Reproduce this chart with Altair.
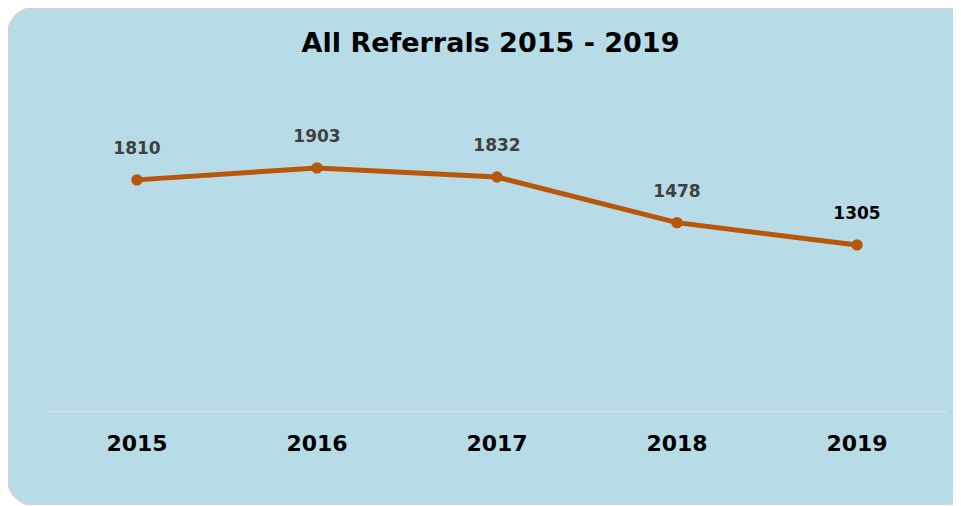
import altair as alt
import pandas as pd

years = ["2015", "2016", "2017", "2018", "2019"]
referrals = [1810, 1903, 1832, 1478, 1305]
title_text = "All Referrals 2015 - 2019"

df = pd.DataFrame({"year": years, "referrals": referrals})

W, H = 965, 497

x = alt.X("year:N", sort=years,
          scale=alt.Scale(type="band", range=[39, 939], paddingInner=0, paddingOuter=0),
          axis=alt.Axis(title=None, labelAngle=0, ticks=False, grid=False,
                        domainColor="#d6dfe3", domainWidth=1.5, offset=-94,
                        labelFont="DejaVu Sans", labelFontWeight="bold",
                        labelFontSize=22, labelColor="#000000", labelPadding=22))
y = alt.Y("referrals:Q", scale=alt.Scale(domain=[0, 2500], range=[405, 83]),
          axis=None)

base = alt.Chart(df).encode(x=x, y=y)

line = base.mark_line(color="#b8560b", strokeWidth=5)
pts = base.mark_circle(color="#b8560b", size=130, opacity=1)
labels = base.mark_text(dy=-31, font="DejaVu Sans", fontWeight="bold", fontSize=17).encode(
    text="referrals:Q",
    color=alt.condition(alt.datum.year == "2019", alt.value("#000000"), alt.value("#404040")),
)

chart = (line + pts + labels).properties(
    width=W, height=H,
    title=alt.TitleParams(title_text, font="DejaVu Sans", fontSize=27, fontWeight="bold",
                          color="#000000", anchor="middle", offset=-50, frame="group"),
    autosize=alt.AutoSizeParams(type="none"),
    padding={"left": 0, "top": 0, "right": -20, "bottom": 0},
).configure(
    background="#ffffff"
).configure_view(
    fill="#b7dce7", stroke="#d2d2d2", strokeWidth=2, cornerRadius=26
)

chart.save("out.html", embed_options={"renderer": "svg", "actions": False})
